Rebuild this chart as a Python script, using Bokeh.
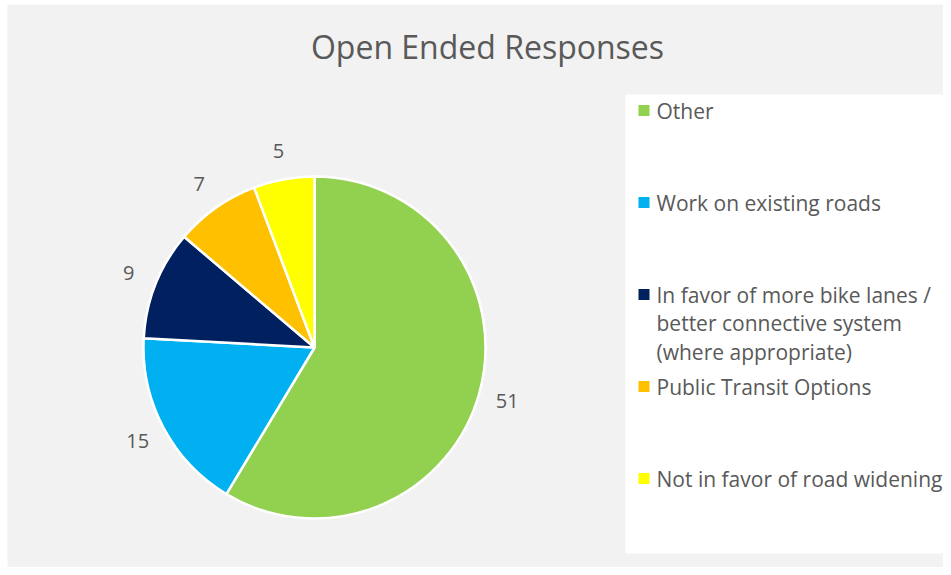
import math
from bokeh.plotting import figure
from bokeh.models import Range1d, ColumnDataSource
from bokeh.core.properties import value
from bokeh.embed import file_html
from bokeh.resources import INLINE

# ---- data ----
title_text = "Open Ended Responses"
categories = [
    "Other",
    "Work on existing roads",
    "In favor of more bike lanes /\nbetter connective system\n(where appropriate)",
    "Public Transit Options",
    "Not in favor of road widening",
]
counts = [51, 15, 9, 7, 5]
colors = ["#92D050", "#00B0F0", "#002060", "#FFC000", "#FFFF00"]

W, H = 943, 567
FONT = "Open Sans"
TXT = "#595959"

p = figure(width=W, height=H, x_range=Range1d(0, W), y_range=Range1d(0, H),
           output_backend="svg", toolbar_location=None, min_border=0,
           background_fill_color="white", border_fill_color="white")
p.axis.visible = False
p.grid.visible = False
p.outline_line_color = None

# chart area background
p.quad(left=7, right=W, top=H - 4, bottom=0, fill_color="#F2F2F2", line_color=None)

# ---- pie ----
cx, cy, r = 314, 220, 171
total = sum(counts)
starts, ends, mids = [], [], []
cum = 0
for c in counts:
    a0 = math.pi / 2 - 2 * math.pi * cum / total
    cum += c
    a1 = math.pi / 2 - 2 * math.pi * cum / total
    starts.append(a0)
    ends.append(a1)
    mids.append((a0 + a1) / 2)

src = ColumnDataSource(dict(start=starts, end=ends, color=colors))
p.wedge(x=cx, y=cy, radius=r, start_angle="start", end_angle="end",
        direction="clock", fill_color="color", line_color="white",
        line_width=2.5, source=src)

# data labels
lr = 200
lx = [cx + lr * math.cos(a) for a in mids]
ly = [cy + lr * math.sin(a) for a in mids]
p.text(x=lx, y=ly, text=[str(c) for c in counts], text_font=value(FONT),
       text_font_size="20px", text_color=TXT, text_align="center",
       text_baseline="middle")

# title
p.text(x=[487], y=[H - 46], text=[title_text], text_font=value(FONT),
       text_font_size="32px", text_color=TXT, text_align="center",
       text_baseline="middle")

# ---- legend box ----
p.quad(left=625, right=W, top=H - 94, bottom=H - 553, fill_color="white", line_color=None)

entry_y0, entry_step, line_step = H - 110, 92, 28.8
mx, my, tx, ty, tt = [], [], [], [], []
for i, lab in enumerate(categories):
    y = entry_y0 - i * entry_step
    mx.append(643.5)
    my.append(y)
    for k, line in enumerate(lab.split("\n")):
        tx.append(656)
        ty.append(y - k * line_step)
        tt.append(line)
p.rect(x=mx, y=my, width=11, height=11, fill_color=colors, line_color=None)
p.text(x=tx, y=ty, text=tt, text_font=value(FONT), text_font_size="21px",
       text_color=TXT, text_align="left", text_baseline="middle")

open("out.html", "w").write(file_html(p, INLINE))
